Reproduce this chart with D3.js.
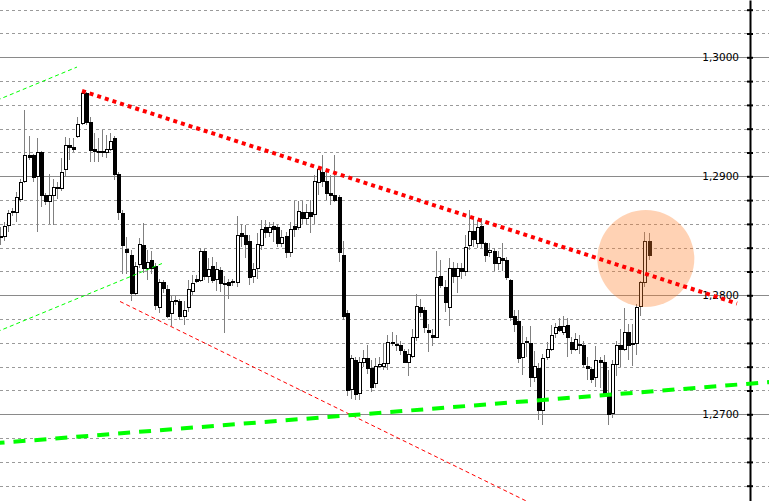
<!DOCTYPE html>
<html><head><meta charset="utf-8">
<script src="https://cdn.jsdelivr.net/npm/d3@7"></script>
<style>html,body{margin:0;padding:0;background:#fff;overflow:hidden}svg{display:block}</style>
</head><body>
<svg id="chart" width="769" height="501"></svg>
<script>
// ---------- DATA ----------
const open = [1.2849,1.2850,1.2859,1.2871,1.2870,1.2881,1.2896,1.2918,1.2918,1.2900,
1.2920,1.2884,1.2879,1.2884,1.2891,1.2890,1.2906,1.2926,1.2925,1.2934,
1.2945,1.2970,1.2946,1.2923,1.2921,1.2921,1.2920,1.2923,1.2932,1.2902,
1.2869,1.2839,1.2834,1.2802,1.2826,1.2842,1.2823,1.2830,1.2825,1.2790,
1.2811,1.2805,1.2785,1.2796,1.2795,1.2783,1.2790,1.2804,1.2814,1.2813,
1.2837,1.2816,1.2825,1.2814,1.2821,1.2810,1.2811,1.2812,1.2811,1.2852,
1.2851,1.2846,1.2816,1.2823,1.2842,1.2857,1.2853,1.2858,1.2857,1.2844,
1.2850,1.2836,1.2858,1.2857,1.2870,1.2865,1.2870,1.2868,1.2895,1.2904,
1.2896,1.2886,1.2884,1.2883,1.2834,1.2785,1.2721,1.2746,1.2718,1.2744,
1.2747,1.2739,1.2726,1.2741,1.2741,1.2743,1.2761,1.2759,1.2758,1.2753,
1.2744,1.2749,1.2765,1.2790,1.2788,1.2771,1.2767,1.2765,1.2816,1.2807,
1.2790,1.2823,1.2816,1.2823,1.2820,1.2842,1.2854,1.2844,1.2858,1.2844,
1.2836,1.2837,1.2827,1.2831,1.2830,1.2813,1.2783,1.2778,1.2748,1.2762,
1.2760,1.2731,1.2739,1.2704,1.2748,1.2755,1.2768,1.2774,1.2769,1.2775,
1.2761,1.2755,1.2759,1.2758,1.2741,1.2738,1.2731,1.2746,1.2744,1.2716,
1.2701,1.2742,1.2758,1.2755,1.2769,1.2760,1.2760,1.2791,1.2811,1.2846];
const high = [1.2857,1.2862,1.2872,1.2873,1.2887,1.2898,1.2956,1.2934,1.2919,1.2932,
1.2921,1.2886,1.2902,1.2898,1.2895,1.2915,1.2933,1.2932,1.2932,1.2950,
1.2971,1.2971,1.2950,1.2936,1.2932,1.2939,1.2935,1.2936,1.2934,1.2904,
1.2872,1.2849,1.2838,1.2828,1.2848,1.2861,1.2838,1.2837,1.2827,1.2814,
1.2813,1.2809,1.2799,1.2799,1.2797,1.2795,1.2813,1.2817,1.2817,1.2840,
1.2839,1.2831,1.2832,1.2828,1.2824,1.2816,1.2814,1.2814,1.2867,1.2860,
1.2859,1.2851,1.2827,1.2852,1.2863,1.2863,1.2862,1.2862,1.2860,1.2855,
1.2853,1.2862,1.2879,1.2879,1.2879,1.2877,1.2880,1.2901,1.2907,1.2918,
1.2905,1.2901,1.2918,1.2884,1.2846,1.2788,1.2750,1.2748,1.2748,1.2754,
1.2758,1.2746,1.2747,1.2748,1.2760,1.2767,1.2769,1.2767,1.2762,1.2755,
1.2755,1.2772,1.2801,1.2797,1.2790,1.2776,1.2772,1.2837,1.2830,1.2813,
1.2831,1.2828,1.2827,1.2827,1.2851,1.2872,1.2865,1.2863,1.2865,1.2845,
1.2844,1.2840,1.2837,1.2844,1.2832,1.2814,1.2788,1.2788,1.2774,1.2765,
1.2774,1.2753,1.2743,1.2751,1.2761,1.2775,1.2777,1.2781,1.2783,1.2781,
1.2765,1.2768,1.2767,1.2762,1.2748,1.2740,1.2757,1.2748,1.2750,1.2737,
1.2746,1.2762,1.2772,1.2789,1.2776,1.2776,1.2793,1.2812,1.2853,1.2852];
const low = [1.2842,1.2846,1.2853,1.2867,1.2862,1.2878,1.2894,1.2914,1.2895,1.2853,
1.2874,1.2876,1.2860,1.2859,1.2881,1.2888,1.2900,1.2914,1.2920,1.2932,
1.2943,1.2943,1.2912,1.2912,1.2912,1.2916,1.2915,1.2921,1.2897,1.2863,
1.2818,1.2818,1.2795,1.2799,1.2823,1.2819,1.2813,1.2818,1.2788,1.2785,
1.2802,1.2781,1.2774,1.2792,1.2779,1.2775,1.2786,1.2800,1.2810,1.2811,
1.2813,1.2810,1.2810,1.2804,1.2803,1.2768,1.2797,1.2808,1.2807,1.2841,
1.2831,1.2809,1.2810,1.2814,1.2838,1.2848,1.2849,1.2845,1.2841,1.2841,
1.2831,1.2832,1.2849,1.2855,1.2860,1.2859,1.2852,1.2860,1.2884,1.2891,
1.2880,1.2876,1.2878,1.2828,1.2779,1.2715,1.2713,1.2712,1.2712,1.2740,
1.2734,1.2719,1.2722,1.2739,1.2737,1.2737,1.2757,1.2753,1.2750,1.2743,
1.2732,1.2747,1.2762,1.2782,1.2768,1.2752,1.2757,1.2764,1.2806,1.2786,
1.2774,1.2810,1.2802,1.2814,1.2816,1.2838,1.2841,1.2840,1.2840,1.2828,
1.2832,1.2820,1.2821,1.2820,1.2813,1.2778,1.2769,1.2743,1.2733,1.2748,
1.2723,1.2727,1.2695,1.2691,1.2746,1.2753,1.2764,1.2769,1.2767,1.2748,
1.2751,1.2753,1.2751,1.2739,1.2729,1.2726,1.2723,1.2722,1.2716,1.2691,
1.2697,1.2732,1.2740,1.2753,1.2746,1.2741,1.2750,1.2783,1.2807,1.2830];
const close = [1.2850,1.2858,1.2869,1.2870,1.2883,1.2895,1.2918,1.2916,1.2899,1.2920,
1.2884,1.2879,1.2884,1.2891,1.2890,1.2904,1.2926,1.2925,1.2923,1.2944,
1.2970,1.2946,1.2922,1.2921,1.2921,1.2921,1.2923,1.2930,1.2902,1.2870,
1.2842,1.2836,1.2802,1.2825,1.2843,1.2823,1.2828,1.2823,1.2792,1.2811,
1.2806,1.2783,1.2795,1.2795,1.2783,1.2788,1.2805,1.2810,1.2812,1.2837,
1.2816,1.2822,1.2813,1.2822,1.2810,1.2810,1.2809,1.2811,1.2851,1.2850,
1.2843,1.2815,1.2822,1.2843,1.2856,1.2853,1.2857,1.2856,1.2844,1.2849,
1.2836,1.2856,1.2856,1.2871,1.2865,1.2870,1.2867,1.2896,1.2906,1.2896,
1.2886,1.2884,1.2880,1.2836,1.2783,1.2720,1.2747,1.2717,1.2744,1.2747,
1.2739,1.2723,1.2741,1.2742,1.2743,1.2761,1.2760,1.2759,1.2754,1.2744,
1.2751,1.2765,1.2791,1.2786,1.2773,1.2769,1.2765,1.2815,1.2809,1.2794,
1.2823,1.2816,1.2823,1.2820,1.2841,1.2854,1.2847,1.2857,1.2844,1.2834,
1.2838,1.2827,1.2832,1.2830,1.2815,1.2782,1.2776,1.2747,1.2760,1.2761,
1.2731,1.2741,1.2704,1.2747,1.2755,1.2767,1.2773,1.2771,1.2774,1.2765,
1.2755,1.2763,1.2758,1.2742,1.2739,1.2730,1.2746,1.2744,1.2718,1.2700,
1.2742,1.2758,1.2755,1.2769,1.2758,1.2760,1.2790,1.2811,1.2846,1.2834];

const gridLevels = [1.264,1.266,1.268,1.270,1.272,1.274,1.276,1.278,1.280,1.282,1.284,
  1.286,1.288,1.290,1.292,1.294,1.296,1.298,1.300,1.302,1.304];
const majorLevels = [1.270,1.280,1.290,1.300];
const tickLabels = ["1,2700","1,2800","1,2900","1,3000"];

// annotation lines: [bar index, price]
const redTrend   = [[19.86,1.29717],[180.45,1.27931]];
const greenTrend = [[-1,1.26758],[190,1.27275]];
const greenChanUpper = [[-1,1.29639],[18.63,1.29918]];
const greenChanLower = [[-1,1.27693],[39.47,1.28267]];
const redThin = [[29.18,1.27948],[129.7,1.26256]];
const highlight = {i:158.1, price:1.28309, radius:0.004076};

// ---------- SCALES ----------
const W = 769, H = 501, axisX = 750;
const svg = d3.select("#chart");
const x = d3.scaleLinear().domain([0, open.length-1]).range([1, 649.5]);
const y = d3.scaleLinear().domain([1.262714, 1.304815]).range([H, 0]);
const isMajor = v => majorLevels.some(m => Math.abs(m - v) < 1e-7);
const px = v => Math.round(y(v)) + 0.5;

svg.append("rect").attr("width", W).attr("height", H).attr("fill", "#fff");

// grid
svg.append("g").selectAll("line").data(gridLevels).join("line")
  .attr("x1", 0).attr("x2", W)
  .attr("y1", d => px(d)).attr("y2", d => px(d))
  .attr("stroke", d => isMajor(d) ? "#8a8a8a" : "#9a9a9a")
  .attr("stroke-width", 1)
  .attr("stroke-dasharray", d => isMajor(d) ? null : "3,3");

// candles
const data = open.map((o, i) => ({i, o, h: high[i], l: low[i], c: close[i]}));
const cx = d => Math.round(x(d.i));
const gC = svg.append("g");
gC.selectAll("line").data(data).join("line")
  .attr("x1", d => cx(d) - 0.5).attr("x2", d => cx(d) - 0.5)
  .attr("y1", d => Math.round(y(d.h))).attr("y2", d => Math.round(y(d.l)))
  .attr("stroke", "#808080").attr("stroke-width", 1);
gC.selectAll("rect").data(data).join("rect")
  .attr("x", d => cx(d) - 1.5)
  .attr("y", d => Math.round(y(Math.max(d.o, d.c))) + 0.5)
  .attr("width", 3)
  .attr("height", d => Math.max(1, Math.round(y(Math.min(d.o, d.c))) - Math.round(y(Math.max(d.o, d.c)))))
  .attr("fill", d => d.c > d.o ? "#fff" : "#000")
  .attr("stroke", "#000").attr("stroke-width", 1);

// highlight circle
svg.append("circle")
  .attr("cx", x(highlight.i)).attr("cy", y(highlight.price))
  .attr("r", y(highlight.price) - y(highlight.price + highlight.radius))
  .attr("fill", "#ff7f27").attr("fill-opacity", 0.35);

// axis
const fmt = v => { const k = majorLevels.findIndex(m => Math.abs(m - v) < 1e-7); return k >= 0 ? tickLabels[k] : ""; };
const axL = svg.append("g").attr("transform", `translate(${axisX},0)`)
  .call(d3.axisLeft(y).tickValues(gridLevels).tickSize(3).tickSizeOuter(0).tickPadding(8).tickFormat(fmt));
const axR = svg.append("g").attr("transform", `translate(${axisX},0)`)
  .call(d3.axisRight(y).tickValues(gridLevels).tickSize(3).tickSizeOuter(0).tickFormat(""));
[axL, axR].forEach(g => {
  g.select(".domain").attr("stroke", "#000").attr("stroke-width", 2);
  g.selectAll(".tick line").attr("stroke", "#000").attr("stroke-width", 2);
});
axR.select(".domain").remove();
axL.selectAll(".tick text").attr("font-family", "'DejaVu Sans', sans-serif")
  .attr("font-size", "10.5px").attr("fill", "#000");

// trend lines
const line = d3.line().x(d => x(d[0])).y(d => y(d[1]));
svg.append("path").datum(greenChanUpper).attr("d", line).attr("fill", "none")
  .attr("stroke", "#00ff00").attr("stroke-width", 1).attr("stroke-dasharray", "4,3");
svg.append("path").datum(greenChanLower).attr("d", line).attr("fill", "none")
  .attr("stroke", "#00ff00").attr("stroke-width", 1).attr("stroke-dasharray", "4,3");
svg.append("path").datum(redThin).attr("d", line).attr("fill", "none")
  .attr("stroke", "#ff0000").attr("stroke-width", 1).attr("stroke-dasharray", "4,3");
svg.append("path").datum(redTrend).attr("d", line).attr("fill", "none")
  .attr("stroke", "#ff0000").attr("stroke-width", 4).attr("stroke-dasharray", "4,4");
svg.append("path").datum(greenTrend).attr("d", line).attr("fill", "none")
  .attr("stroke", "#00ff00").attr("stroke-width", 4)
  .attr("stroke-dasharray", "12,9").attr("stroke-dashoffset", 4.4);
</script>
</body></html>
